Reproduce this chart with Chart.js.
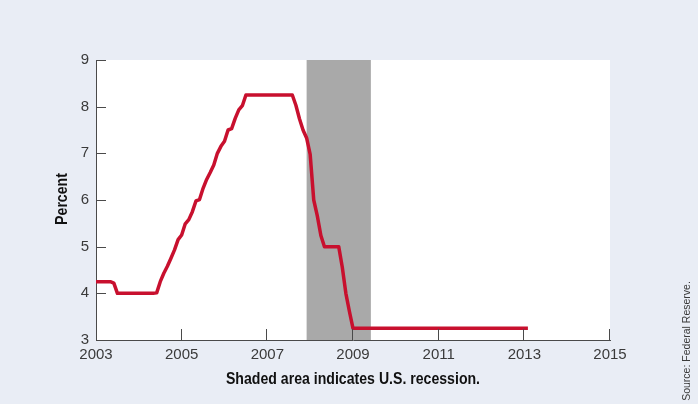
<!DOCTYPE html>
<html>
<head>
<meta charset="utf-8">
<script src="https://cdn.jsdelivr.net/npm/chart.js@4/dist/chart.umd.min.js"></script>
<style>
  html, body { margin: 0; padding: 0; background: #e9edf5; }
  #wrap { width: 698px; height: 404px; }
</style>
</head>
<body>
<div id="wrap"><canvas id="chart" width="698" height="404"></canvas></div>
<script>
// ── Prime rate, monthly averages (percent), starting Jan 2003 ──
const START_YEAR = 2003;
const primeRate = [
  // 2003
  4.25, 4.25, 4.25, 4.25, 4.25, 4.22, 4.00, 4.00, 4.00, 4.00, 4.00, 4.00,
  // 2004
  4.00, 4.00, 4.00, 4.00, 4.00, 4.01, 4.25, 4.43, 4.58, 4.75, 4.93, 5.15,
  // 2005
  5.25, 5.49, 5.58, 5.75, 5.98, 6.01, 6.25, 6.44, 6.59, 6.75, 7.00, 7.15,
  // 2006
  7.26, 7.50, 7.53, 7.75, 7.93, 8.02, 8.25, 8.25, 8.25, 8.25, 8.25, 8.25,
  // 2007
  8.25, 8.25, 8.25, 8.25, 8.25, 8.25, 8.25, 8.25, 8.03, 7.74, 7.50, 7.33,
  // 2008
  6.98, 6.00, 5.66, 5.24, 5.00, 5.00, 5.00, 5.00, 5.00, 4.56, 4.00, 3.61,
  // 2009
  3.25, 3.25, 3.25, 3.25, 3.25, 3.25, 3.25, 3.25, 3.25, 3.25, 3.25, 3.25,
  // 2010
  3.25, 3.25, 3.25, 3.25, 3.25, 3.25, 3.25, 3.25, 3.25, 3.25, 3.25, 3.25,
  // 2011
  3.25, 3.25, 3.25, 3.25, 3.25, 3.25, 3.25, 3.25, 3.25, 3.25, 3.25, 3.25,
  // 2012
  3.25, 3.25, 3.25, 3.25, 3.25, 3.25, 3.25, 3.25, 3.25, 3.25, 3.25, 3.25,
  // 2013
  3.25, 3.25
];

// Recession: Dec 2007 – Jun 2009 (decimal years)
const recession = [2007.917, 2009.417];

// Axis ranges / ticks
const xRange = [2003, 2015];
const xStep = 2;
const yRange = [3, 9];
const yStep = 1;

// ── Colours & fonts ─────────────────────────────────
const BG      = '#e9edf5';
const LINE    = '#c8102e';
const SHADE   = '#a9a9a9';
const AXIS    = '#4a4a4a';
const TEXT    = '#3a3a3a';
const FONT    = "'Liberation Sans', Arial, sans-serif";

const points = primeRate.map((v, i) => ({ x: START_YEAR + i / 12, y: v }));

// Background + white plot area + recession band
const backdrop = {
  id: 'backdrop',
  beforeDraw(chart) {
    const { ctx, chartArea: a, scales: { x } } = chart;
    ctx.save();
    ctx.fillStyle = BG;
    ctx.fillRect(0, 0, chart.width, chart.height);
    ctx.fillStyle = '#ffffff';
    ctx.fillRect(a.left, a.top, a.right - a.left, a.bottom - a.top);
    const x0 = x.getPixelForValue(recession[0]);
    const x1 = x.getPixelForValue(recession[1]);
    ctx.fillStyle = SHADE;
    ctx.fillRect(x0, a.top, x1 - x0, a.bottom - a.top);
    ctx.restore();
  }
};

// condensed bold text (no narrow face installed, so squeeze horizontally)
function narrowText(ctx, text, x, y, rot) {
  ctx.save();
  ctx.translate(x, y);
  if (rot) ctx.rotate(rot);
  ctx.scale(0.83, 1);
  ctx.font = 'bold 17px ' + FONT;
  ctx.fillText(text, 0, 0);
  ctx.restore();
}

// Inward tick marks + text annotations
const decorations = {
  id: 'decorations',
  afterDraw(chart) {
    const { ctx, chartArea: a, scales: { x, y } } = chart;
    ctx.save();
    ctx.strokeStyle = AXIS;
    ctx.lineWidth = 1;
    ctx.beginPath();
    y.ticks.forEach(t => {
      if (t.value === yRange[0]) return;
      const py = Math.round(y.getPixelForValue(t.value)) + 0.5;
      ctx.moveTo(a.left, py);
      ctx.lineTo(a.left + 10, py);
    });
    x.ticks.forEach(t => {
      if (t.value === xRange[0]) return;
      const px = Math.round(x.getPixelForValue(t.value)) - 0.5;
      ctx.moveTo(px, a.bottom);
      ctx.lineTo(px, a.bottom - 11);
    });
    ctx.stroke();

    ctx.fillStyle = '#111111';
    ctx.textAlign = 'center';
    ctx.textBaseline = 'middle';

    narrowText(ctx, 'Percent', 62, (a.top + a.bottom) / 2 - 1, -Math.PI / 2);
    narrowText(ctx, 'Shaded area indicates U.S. recession.', (a.left + a.right) / 2, 379);

    // source
    ctx.save();
    ctx.translate(687, 341);
    ctx.rotate(-Math.PI / 2);
    ctx.fillStyle = TEXT;
    ctx.font = '10.5px ' + FONT;
    ctx.fillText('Source: Federal Reserve.', 0, 0);
    ctx.restore();

    ctx.restore();
  }
};

new Chart(document.getElementById('chart'), {
  type: 'line',
  data: {
    datasets: [{
      label: 'Prime rate',
      data: points,
      borderColor: LINE,
      borderWidth: 3.5,
      pointRadius: 0,
      tension: 0,
      borderJoinStyle: 'round',
      fill: false,
    }],
  },
  options: {
    responsive: false,
    animation: false,
    layout: { padding: { left: 0, top: 60, right: 88, bottom: 0 } },
    plugins: {
      legend: { display: false },
      tooltip: { enabled: false },
    },
    scales: {
      x: {
        type: 'linear',
        min: xRange[0],
        max: xRange[1],
        afterFit(scale) { scale.height = 64; },
        ticks: {
          stepSize: xStep,
          padding: 6,
          color: TEXT,
          font: { family: FONT, size: 15 },
          maxRotation: 0,
          callback: v => String(v),
        },
        grid: { display: false, drawTicks: false },
        border: { display: true, color: AXIS, width: 1 },
      },
      y: {
        min: yRange[0],
        max: yRange[1],
        afterFit(scale) { scale.width = 96; },
        ticks: {
          stepSize: yStep,
          padding: 7,
          color: TEXT,
          font: { family: FONT, size: 15 },
        },
        grid: { display: false, drawTicks: false },
        border: { display: true, color: AXIS, width: 1 },
      },
    },
  },
  plugins: [backdrop, decorations],
});
</script>
</body>
</html>
